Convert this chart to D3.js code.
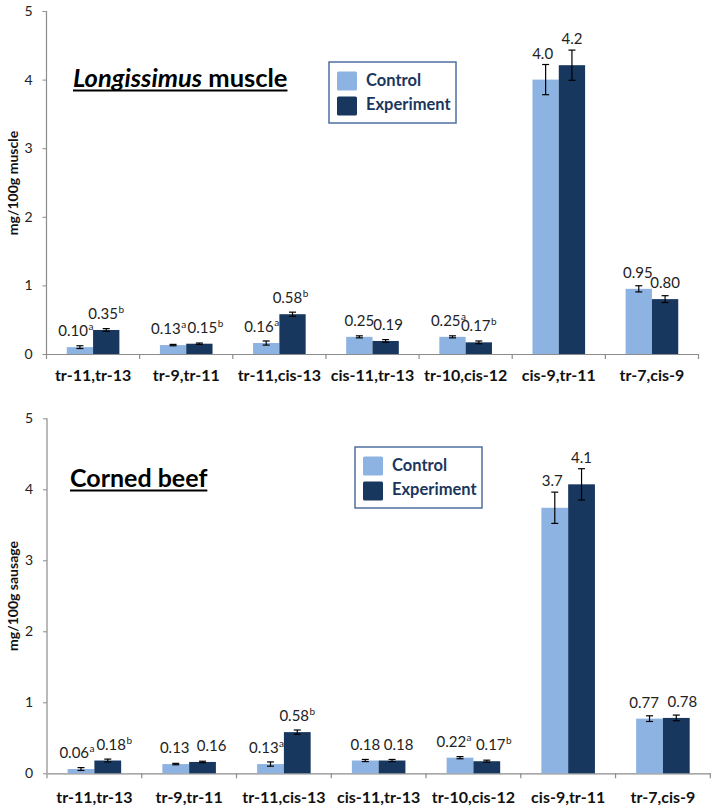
<!DOCTYPE html>
<html>
<head>
<meta charset="utf-8">
<script src="https://cdn.jsdelivr.net/npm/d3@7"></script>
<style>
  body { margin: 0; background: #fff; }
  svg { display: block; font-family: Lato, "Open Sans", sans-serif; }
</style>
</head>
<body>
<svg id="chart" width="711" height="808"></svg>
<script>
"use strict";

// ==========  Data  ==========
var categories = ['tr-11,tr-13', 'tr-9,tr-11', 'tr-11,cis-13', 'cis-11,tr-13', 'tr-10,cis-12', 'cis-9,tr-11', 'tr-7,cis-9']
var seriesNames = ['Control', 'Experiment']
var yTicks = [0, 1, 2, 3, 4, 5]

var muscleControl       = [0.10, 0.13, 0.16, 0.25, 0.25, 4.00, 0.95]
var muscleControlErr    = [0.02, 0.01, 0.03, 0.015, 0.015, 0.22, 0.045]
var muscleControlSig    = ['a', 'a', 'a', '', 'a', '', '']
var muscleExperiment    = [0.35, 0.15, 0.58, 0.19, 0.17, 4.21, 0.80]
var muscleExperimentErr = [0.02, 0.01, 0.03, 0.02, 0.02, 0.22, 0.05]
var muscleExperimentSig = ['b', 'b', 'b', '', 'b', '', '']

var sausageControl       = [0.06, 0.13, 0.13, 0.18, 0.22, 3.74, 0.77]
var sausageControlErr    = [0.02, 0.01, 0.03, 0.015, 0.015, 0.22, 0.04]
var sausageControlSig    = ['a', '', 'a', '', 'a', '', '']
var sausageExperiment    = [0.18, 0.16, 0.58, 0.18, 0.17, 4.07, 0.78]
var sausageExperimentErr = [0.02, 0.01, 0.03, 0.015, 0.015, 0.22, 0.04]
var sausageExperimentSig = ['b', '', 'b', '', 'b', '', '']

var colors = { Control: '#8db3e2', Experiment: '#17375e' }

// ==========  Panel  ==========
var svg = d3.select('#chart')

var fmt = function(v) { return v >= 1 ? v.toFixed(1) : v.toFixed(2) }

var drawPanel = function(p) {
  var g = svg.append('g')
  var x = d3.scaleBand().domain(categories).range([p.x0, p.x1]).paddingInner(0).paddingOuter(0)
  var y = d3.scaleLinear().domain([0, 5]).range([p.yBottom, p.yTop])
  var groupW = x.bandwidth() * 0.565
  var xs = d3.scaleBand().domain(seriesNames).range([0, groupW])
  var offset = (x.bandwidth() - groupW) / 2

  // y axis
  var yAxis = g.append('g').attr('transform', 'translate(' + p.x0 + ',0)')
    .call(d3.axisLeft(y).tickValues(yTicks).tickSize(4).tickPadding(10).tickFormat(d3.format('d')))
  yAxis.select('.domain').attr('stroke', '#8c8c8c').attr('stroke-width', 1.2).attr('d', 'M0,' + p.yTop + 'V' + p.yBottom)
  yAxis.selectAll('.tick line').attr('stroke', '#8c8c8c')
  yAxis.selectAll('.tick text').attr('font-size', 14).attr('fill', '#222').attr('font-family', 'Lato')

  // x axis with labels at category centres
  var xAxis = g.append('g').attr('transform', 'translate(0,' + p.yBottom + ')')
    .call(d3.axisBottom(x).tickSize(0).tickPadding(p.labelPad))
  xAxis.select('.domain').attr('stroke', '#8c8c8c').attr('stroke-width', 1.2)
  xAxis.selectAll('.tick text').attr('font-size', 16).attr('font-weight', 'bold').attr('fill', '#111').attr('font-family', 'Lato')
  // boundary tick marks
  g.selectAll('.sep').data(categories.concat([null])).enter().append('line')
    .attr('x1', function(d) { return d === null ? p.x1 : x(d) })
    .attr('x2', function(d) { return d === null ? p.x1 : x(d) })
    .attr('y1', p.yBottom).attr('y2', p.yBottom + 5)
    .attr('stroke', '#8c8c8c').attr('stroke-width', 1.2)

  var series = [
    { name: 'Control', values: p.control, err: p.controlErr, sig: p.controlSig, nudge: p.controlNudge },
    { name: 'Experiment', values: p.experiment, err: p.experimentErr, sig: p.experimentSig, nudge: p.experimentNudge }
  ]
  series.forEach(function(s) {
    s.rows = categories.map(function(c, i) { return { cat: c, v: s.values[i], e: s.err[i], sig: s.sig[i], dx: s.nudge[i] } })
    s.cx = function(d) { return x(d.cat) + offset + xs(s.name) + xs.bandwidth() / 2 }
  })

  // bars and error bars
  series.forEach(function(s) {
    var cx = s.cx
    g.selectAll('.bar-' + s.name).data(s.rows).enter().append('rect')
      .attr('x', function(d) { return x(d.cat) + offset + xs(s.name) })
      .attr('y', function(d) { return y(d.v) })
      .attr('width', xs.bandwidth())
      .attr('height', function(d) { return p.yBottom - y(d.v) })
      .attr('fill', colors[s.name])
    var eb = g.selectAll('.err-' + s.name).data(s.rows).enter().append('g').attr('stroke', '#000').attr('stroke-width', 1.2)
    eb.append('line').attr('x1', cx).attr('x2', cx)
      .attr('y1', function(d) { return y(d.v + d.e) }).attr('y2', function(d) { return y(d.v - d.e) })
    eb.append('line').attr('x1', function(d) { return cx(d) - 3.5 }).attr('x2', function(d) { return cx(d) + 3.5 })
      .attr('y1', function(d) { return y(d.v + d.e) }).attr('y2', function(d) { return y(d.v + d.e) })
    eb.append('line').attr('x1', function(d) { return cx(d) - 3.5 }).attr('x2', function(d) { return cx(d) + 3.5 })
      .attr('y1', function(d) { return y(d.v - d.e) }).attr('y2', function(d) { return y(d.v - d.e) })
  })

  // value labels on top of everything (nudged apart like the original)
  series.forEach(function(s) {
    var lbl = g.selectAll('.lbl-' + s.name).data(s.rows).enter().append('text')
      .attr('x', function(d) { return s.cx(d) + d.dx })
      .attr('y', function(d) { return Math.min(y(d.v) - 11, y(d.v + d.e) - 6) })
      .attr('text-anchor', 'middle')
      .attr('font-size', 15).attr('fill', '#222').attr('font-family', 'Lato')
    lbl.append('tspan').text(function(d) { return fmt(d.v) })
    lbl.append('tspan').attr('font-size', 10).attr('dx', 0.5).attr('dy', -6).text(function(d) { return d.sig })
  })

  // title
  var title = g.append('text').attr('x', p.titleX).attr('y', p.titleY)
    .attr('font-size', p.titleSize).attr('font-weight', 'bold').attr('fill', '#000').attr('font-family', 'Lato')
  p.title.forEach(function(part) {
    title.append('tspan').attr('font-style', part.italic ? 'italic' : 'normal').text(part.text)
  })
  var tw = title.node().getComputedTextLength()
  g.append('line').attr('x1', p.titleX).attr('x2', p.titleX + tw)
    .attr('y1', p.titleY + 3.5).attr('y2', p.titleY + 3.5).attr('stroke', '#000').attr('stroke-width', 2)

  // y label
  g.append('text').attr('transform', 'translate(' + 18 + ',' + p.yLabelY + ') rotate(-90)')
    .attr('text-anchor', 'middle').attr('font-size', 14).attr('font-weight', 'bold').attr('fill', '#111')
    .attr('font-family', 'Lato').text(p.yLabel)

  // legend
  var lg = g.append('g').attr('transform', 'translate(' + p.legendX + ',' + p.legendY + ')')
  lg.append('rect').attr('width', 127).attr('height', 61).attr('fill', '#fff')
    .attr('stroke', '#4f6fa0').attr('stroke-width', 1.5)
  seriesNames.forEach(function(n, i) {
    lg.append('rect').attr('x', 8).attr('y', 9.5 + i * 25).attr('width', 20).attr('height', 19).attr('rx', 1.5)
      .attr('fill', colors[n])
    lg.append('text').attr('x', 37).attr('y', 24 + i * 24).attr('font-size', 16.5).attr('font-weight', 'bold')
      .attr('fill', '#1b365d').attr('font-family', 'Lato').text(n)
  })
}

drawPanel({
  x0: 46.5, x1: 698.5, yTop: 11, yBottom: 354, labelPad: 16,
  control: muscleControl, controlErr: muscleControlErr, controlSig: muscleControlSig,
  experiment: muscleExperiment, experimentErr: muscleExperimentErr, experimentSig: muscleExperimentSig,
  controlNudge: [-4, -4.5, -4.5, 0, -4, -3, -1],
  experimentNudge: [0, 6, -2, 2.5, 0, 0, 0],
  title: [{ text: 'Longissimus', italic: true }, { text: ' muscle', italic: false }],
  titleX: 73, titleY: 87, titleSize: 25.5, yLabel: 'mg/100g muscle', yLabelY: 183,
  legendX: 329, legendY: 62
})

drawPanel({
  x0: 47, x1: 710.3, yTop: 418.3, yBottom: 773.3, labelPad: 18,
  control: sausageControl, controlErr: sausageControlErr, controlSig: sausageControlSig,
  experiment: sausageExperiment, experimentErr: sausageExperimentErr, experimentSig: sausageExperimentSig,
  controlNudge: [-4, -1, -4, 0, -6, -2.5, -5.5],
  experimentNudge: [6.5, 9, 0, 6.5, 7, 0, 6],
  title: [{ text: 'Corned beef', italic: false }],
  titleX: 70, titleY: 487, titleSize: 25, yLabel: 'mg/100g sausage', yLabelY: 596,
  legendX: 355, legendY: 447
})
</script>
</body>
</html>
